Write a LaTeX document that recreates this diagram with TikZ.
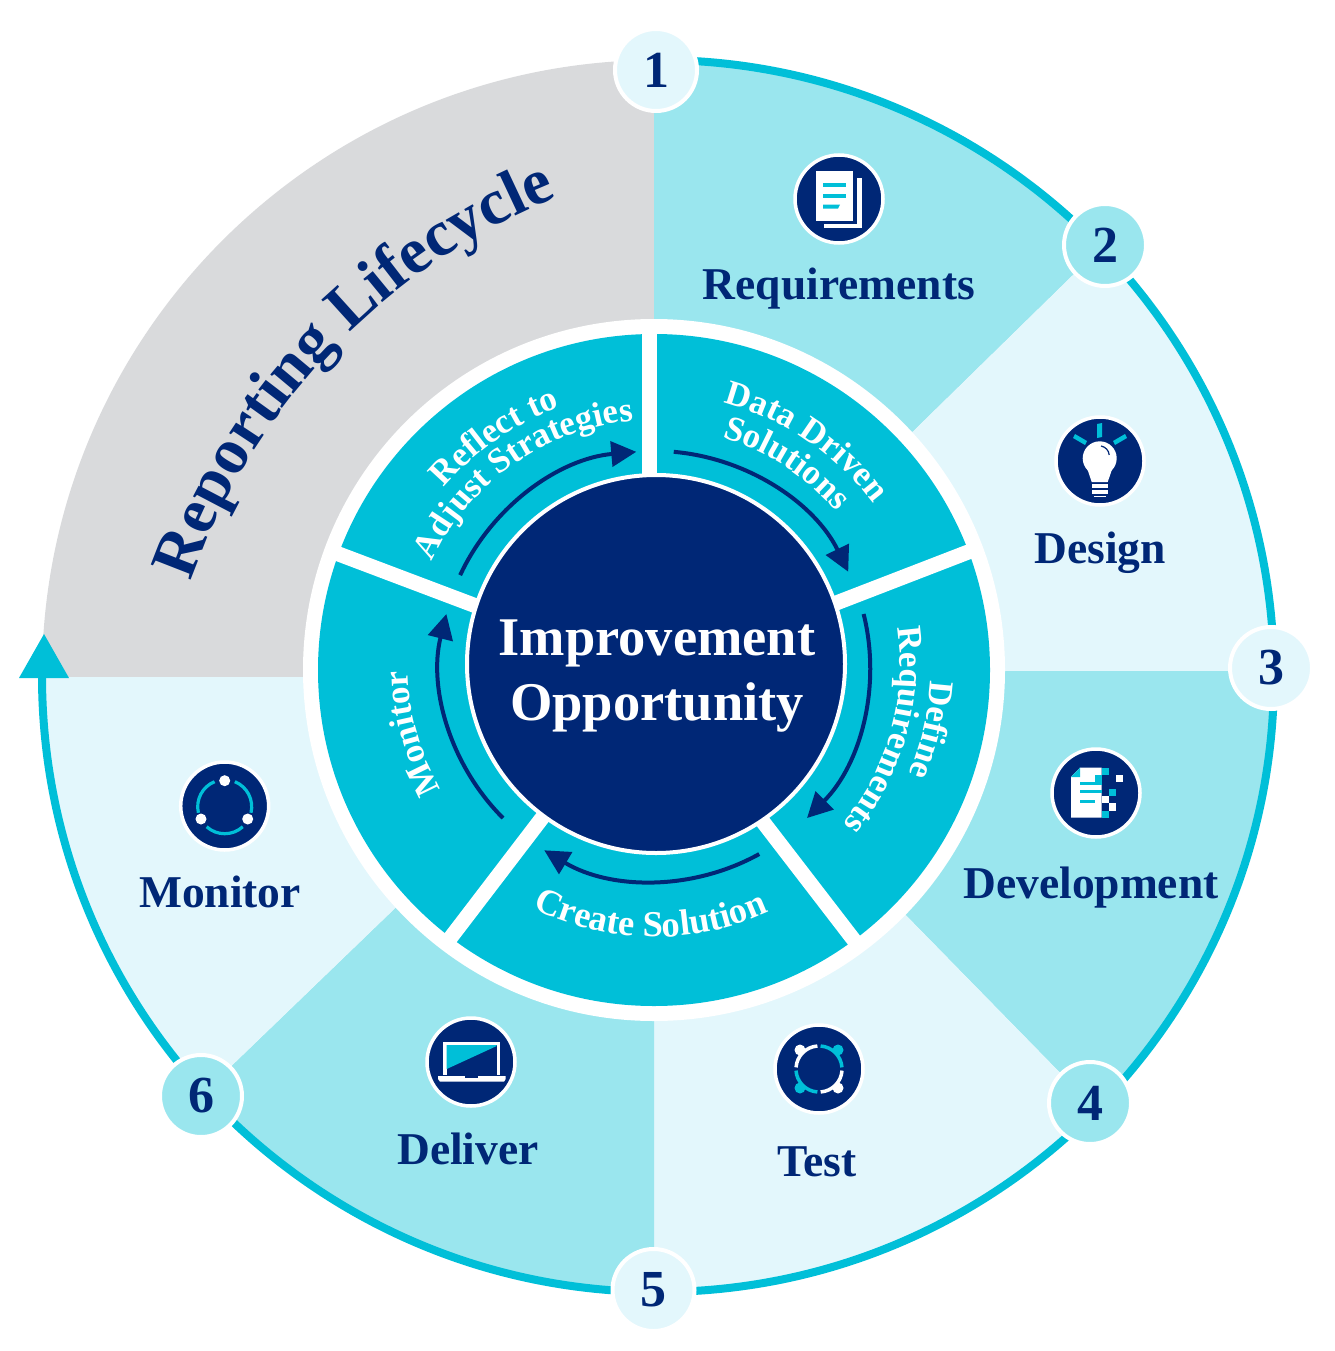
\documentclass[tikz,border=0pt]{standalone}
\usepackage{fontspec}
\setmainfont{Liberation Serif}
\usetikzlibrary{arrows.meta,decorations.text,shapes.geometric}
\definecolor{navy}{HTML}{002776}
\definecolor{teal}{HTML}{00BFD8}
\definecolor{ltteal}{HTML}{9AE6EE}
\definecolor{pale}{HTML}{E3F7FC}
\definecolor{grayf}{HTML}{D9DADC}
\newcommand{\fmtS}{\fontsize{35}{35}\selectfont\bfseries\color{white}}
\newcommand{\fmtC}{\fontsize{36.5}{36.5}\selectfont\bfseries\color{white}}
\newcommand{\fmtL}{\fontsize{65}{65}\selectfont\bfseries\color{navy}}
\tikzset{
  numnode/.style={circle,draw=white,line width=4pt,inner sep=0pt,minimum size=82pt,text=navy,font=\fontsize{52}{52}\selectfont\bfseries},
  numa/.style={numnode,fill=pale},
  numb/.style={numnode,fill=ltteal},
  lab/.style={text=navy,font=\fontsize{45.5}{45.5}\selectfont\bfseries,inner sep=0pt},
  icon/.style={circle,fill=navy,draw=white,line width=3.5pt,minimum size=88pt,inner sep=0pt},
  gaps/.style={draw=white,line width=15pt},
  flow/.style={draw=navy,line width=4pt,-{Triangle[length=25pt,width=25pt]}},
  wh/.style={fill=white,draw=none},
  tl/.style={fill=teal,draw=none},
  nv/.style={fill=navy,draw=none},
}
\begin{document}
\begin{tikzpicture}[x=1pt,y=1pt]
\useasboundingbox (0,0) rectangle (1334,-1351);
% outer sectors
\begin{scope}
\clip (658,-676) circle[radius=616pt];
\fill[grayf] (654,-500)--(654,0)--(0,0)--(0,-677)--(400,-677)--cycle;
\fill[ltteal] (654,-500)--(654,0)--(1300,0)--(1300,-53)--(800,-542)--cycle;
\fill[pale] (800,-542)--(1300,-53)--(1334,-53)--(1334,-671)--(800,-671)--cycle;
\fill[ltteal] (800,-671)--(1334,-671)--(1334,-1318)--(1300,-1318)--(800,-807)--cycle;
\fill[pale] (800,-807)--(1300,-1318)--(1300,-1351)--(654,-1351)--(654,-807)--cycle;
\fill[ltteal] (654,-807)--(654,-1351)--(0,-1351)--(0,-1289)--(500,-807)--cycle;
\fill[pale] (500,-807)--(0,-1289)--(0,-677)--(500,-677)--cycle;
\end{scope}
% ring arrow
\coordinate (ringstart) at (658,-60);
\draw[teal,line width=8pt] (ringstart) arc[start angle=90,end angle=-180,radius=616pt];
\fill[teal] (19,-678)--(44,-634)--(69,-678)--cycle;
% inner ring
\fill[white] (654,-670) circle[radius=351pt];
\fill[teal] (654,-670) circle[radius=336pt];
\draw[gaps] (649.5,-325)--(649.5,-600);
\draw[gaps] (328,-550)--(500,-615);
\draw[gaps] (976,-549)--(800,-617);
\draw[gaps] (860,-948)--(740,-792);
\draw[gaps] (445,-945)--(565,-788);
% hub
\node[circle,fill=navy,draw=white,line width=4pt,minimum size=378pt,inner sep=0pt] (hub) at (656,-664) {};
\node[align=center,text=white,font=\fontsize{54.5}{65}\selectfont\bfseries,inner sep=0pt] (hubtext) at (657,-676) {Improvement\\Opportunity};
% flow arrows
\def\cx{655}\def\cy{-666}
\draw[flow] (85:215pt)++(\cx,\cy) arc[start angle=85,end angle=26,radius=215pt];
\draw[flow] (14:215pt)++(\cx,\cy) arc[start angle=14,end angle=-45,radius=215pt];
\draw[flow] (-61:215pt)++(\cx,\cy) arc[start angle=-61,end angle=-121,radius=215pt];
\draw[flow] (225:215pt)++(\cx,\cy) arc[start angle=225,end angle=166,radius=215pt];
\draw[flow] (155:215pt)++(\cx,\cy) arc[start angle=155,end angle=95,radius=215pt];
% curved text
\path[decorate,decoration={text along path,text align=center,text={|\fmtL|Reporting Lifecycle}}] (166.3:640pt)++(795,-792) arc[start angle=166.3,end angle=106.3,radius=640pt];
\path[decorate,decoration={text along path,text align=center,text={|\fmtS|Data Driven}}] (98:272pt)++(\cx,\cy) arc[start angle=98,end angle=14,radius=272pt];
\path[decorate,decoration={text along path,text align=center,text={|\fmtS|Solutions}}] (97:238pt)++(\cx,\cy) arc[start angle=97,end angle=17,radius=238pt];
\path[decorate,decoration={text along path,text align=center,text={|\fmtS|Define}}] (27:276pt)++(\cx,\cy) arc[start angle=27,end angle=-53,radius=276pt];
\path[decorate,decoration={text along path,text align=center,text={|\fmtS|Requirements}}] (35:245pt)++(\cx,\cy) arc[start angle=35,end angle=-66,radius=245pt];
\path[decorate,decoration={text along path,text align=center,text={|\fmtC|Create Solution}}] (229:271pt)++(\cx,\cy) arc[start angle=229,end angle=309,radius=271pt];
\path[decorate,decoration={text along path,text align=center,text={|\fmtS|Monitor}}] (235.5:247pt)++(\cx,\cy) arc[start angle=235.5,end angle=155.5,radius=247pt];
\path[decorate,decoration={text along path,text align=center,text={|\fmtS|Reflect to}}] (165:276pt)++(\cx,\cy) arc[start angle=165,end angle=85,radius=276pt];
\path[decorate,decoration={text along path,text align=center,text={|\fmtS|Adjust Strategies}}] (170:246pt)++(\cx,\cy) arc[start angle=170,end angle=80,radius=246pt];
% labels
\node[lab] (lReq) at (839,-289) {Requirements};
\node[lab] (lDes) at (1100,-553) {Design};
\node[lab] (lDev) at (1091,-888) {Development};
\node[lab] (lTest) at (817,-1162) {Test};
\node[lab] (lDel) at (468,-1149) {Deliver};
\node[lab] (lMon) at (220,-892) {Monitor};
% numbers
\node[numa] (n1) at (656,-70) {1};
\node[numb] (n2) at (1105,-245) {2};
\node[numa] (n3) at (1271,-668) {3};
\node[numb] (n4) at (1090,-1103) {4};
\node[numa] (n5) at (653.5,-1290) {5};
\node[numb] (n6) at (201,-1096) {6};
% icons
\node[icon] (iReq) at (839,-199) {};
\node[icon] (iDes) at (1100,-461) {};
\node[icon] (iDev) at (1096,-793) {};
\node[icon] (iTest) at (819,-1069) {};
\node[icon] (iDel) at (471,-1062) {};
\node[icon] (iMon) at (224.7,-806) {};
% document icon
\fill[white] (856.7,-177.7) rectangle (862,-227.7);
\fill[white] (824.3,-224) rectangle (862,-227.7);
\fill[white] (815.7,-171) rectangle (853.3,-220.7);
\fill[teal] (823,-183.3) rectangle (846,-187.3);
\fill[teal] (823,-194) rectangle (846,-198);
\fill[teal] (823,-204.7)--(840,-204.7)--(838,-208.7)--(823,-208.7)--cycle;
% bulb icon
\fill[tl] (1097,-424)--(1102,-423)--(1102,-437)--(1097,-438)--cycle;
\fill[tl] (1075,-434)--(1087,-441)--(1085,-445)--(1073,-438)--cycle;
\fill[tl] (1125,-434)--(1113,-441)--(1115,-445)--(1127,-438)--cycle;
\fill[wh] (1099.7,-458.3) circle[radius=17pt];
\fill[wh] (1087,-468)--(1112.5,-468)--(1107.7,-482)--(1091.7,-482)--cycle;
\fill[wh] (1091.7,-484) rectangle (1107.7,-488);
\fill[wh] (1091.7,-490) rectangle (1107.7,-494);
\fill[wh] (1093.5,-495.5) rectangle (1106,-497);
\draw[navy,line width=1.2pt] (1101,-446) arc[start angle=80,end angle=5,radius=10pt];
% development icon
\fill[wh] (1071,-777)--(1080,-767.7)--(1101.7,-767.7)--(1101.7,-817.7)--(1071,-817.7)--cycle;
\fill[tl] (1071,-777)--(1080,-767.7)--(1080,-777)--cycle;
\fill[tl] (1101.7,-767.7) rectangle (1109,-775);
\fill[tl] (1095,-775) rectangle (1101.7,-782.3);
\fill[wh] (1116,-775) rectangle (1123,-782.3);
\fill[nv] (1101.7,-775) rectangle (1109,-782.3);
\fill[tl] (1109,-789.3) rectangle (1116,-796.3);
\fill[nv] (1101.7,-789.3) rectangle (1109,-796.3);
\fill[wh] (1101.7,-796.3) rectangle (1109,-803.3);
\fill[wh] (1109,-803.3) rectangle (1116,-810.7);
\fill[nv] (1101.7,-803.3) rectangle (1109,-810.7);
\fill[tl] (1101.7,-810.7) rectangle (1109,-817.7);
\fill[tl] (1080,-782.3) rectangle (1101.7,-785);
\fill[tl] (1080,-790) rectangle (1101.7,-793.3);
\fill[tl] (1080,-800) rectangle (1095,-803.3);
% test icon
\begin{scope}[line width=3.5pt]
\draw[white] (819-1.6,-1046) arc[start angle=94,end angle=176,radius=23pt];
\draw[teal] (819+1.6,-1046) arc[start angle=86,end angle=4,radius=23pt];
\draw[white] (819+23,-1069-1.6) arc[start angle=-4,end angle=-86,radius=23pt];
\draw[teal] (819-23,-1069-1.6) arc[start angle=184,end angle=266,radius=23pt];
\end{scope}
\fill[wh] (800,-1050) circle[radius=5.5pt];
\fill[tl] (838,-1050) circle[radius=5.5pt];
\fill[wh] (838,-1088) circle[radius=5.5pt];
\fill[tl] (800,-1088) circle[radius=5.5pt];
% laptop icon
\fill[wh] (443.3,-1041.7) rectangle (500,-1075);
\fill[nv] (446.7,-1045) rectangle (496.7,-1075);
\fill[tl] (446.7,-1045)--(496.7,-1045)--(496.7,-1046)--(446.7,-1069)--cycle;
\fill[wh] (438,-1076)--(505.7,-1076)--(505.7,-1079)--(504,-1081.7)--(440,-1081.7)--(438,-1079)--cycle;
\fill[nv] (465,-1076) rectangle (478,-1077.5);
% monitor icon
\begin{scope}[line width=3.2pt,teal]
\draw (90-22:27pt)++(224.7,-806.7) arc[start angle=68,end angle=-13,radius=27pt];
\draw (112:27pt)++(224.7,-806.7) arc[start angle=112,end angle=193,radius=27pt];
\draw (228:27pt)++(224.7,-806.7) arc[start angle=228,end angle=312,radius=27pt];
\end{scope}
\fill[wh] (224.7,-780.7) circle[radius=5.5pt];
\fill[wh] (201,-819) circle[radius=5.5pt];
\fill[wh] (247.7,-819) circle[radius=5.5pt];
\end{tikzpicture}
\end{document}
